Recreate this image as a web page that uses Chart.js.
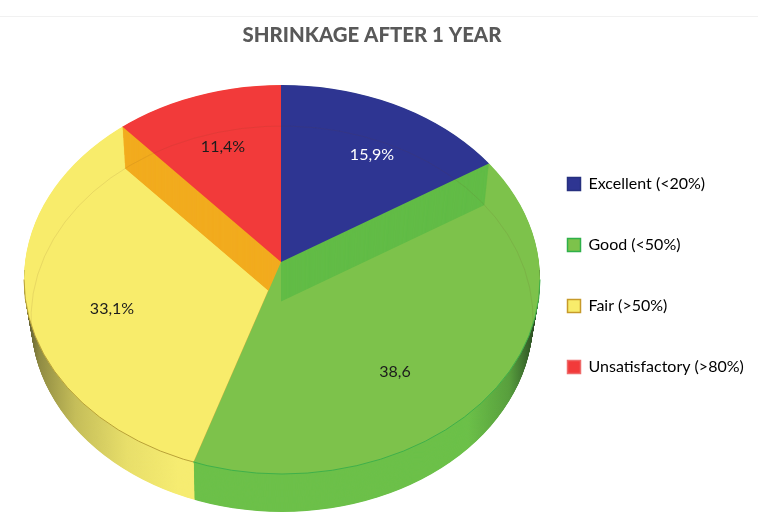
<!DOCTYPE html>
<html>
<head>
<meta charset="utf-8">
<title>Shrinkage after 1 year</title>
<script src="https://cdn.jsdelivr.net/npm/chart.js@4/dist/chart.umd.min.js"></script>
<style>
    html, body { margin: 0; padding: 0; background: #fff; }
    canvas { display: block; }
</style>
</head>
<body>
<canvas id="pie" width="758" height="529"></canvas>
<script>
const categories = ['Excellent (<20%)', 'Good (<50%)', 'Fair (>50%)', 'Unsatisfactory (>80%)'];
const shrinkage = [15.9, 38.6, 33.1, 11.4];
const sliceLabels = ['15,9%', '38,6', '33,1%', '11,4%'];

const topColors = ['#2E3592', '#7DC24B', '#F8EC6B', '#F23A3A'];
const wallColors = ['#2E3592', '#6DC04A', '#F6EC72', '#F23A3A'];
const legendBorders = ['#26307F', '#2FB04A', '#C79A2A', '#EE6A6A'];
const labelColors = ['#ffffff', '#1c1c1c', '#1c1c1c', '#1c1c1c'];
const labelPos = [[372, 155], [395, 372], [112, 309], [223, 147]];

// pie geometry: the wedges fan out from an apex above the ellipse centre (fake perspective)
const APEX_X = 281, APEX_Y = 262;
const CX = 282, CY = 279.5, RX = 258, RY = 194.5;
const TILT = RY / RX;
const DEPTH = 39.5;

function clipDisc(ctx, d) {
    const t = d / DEPTH;
    ctx.beginPath();
    ctx.ellipse(CX, CY + d, RX - 7 * t, RY - 1.5 * t, 0, 0, Math.PI * 2);
    ctx.clip();
}

function drawWedge(ctx, arc, d, overrides) {
    const own = arc.options;
    ctx.save();
    clipDisc(ctx, d);
    ctx.translate(APEX_X, APEX_Y + d);
    ctx.scale(1, TILT);
    ctx.translate(-arc.x, -arc.y);
    arc.options = { ...own, ...overrides };
    arc.draw(ctx);
    arc.options = own;
    ctx.restore();
}

function extrude(ctx, arc, color) {
    for (let d = DEPTH; d > 0; d -= 0.5) {
        drawWedge(ctx, arc, d, { backgroundColor: color });
    }
}

const pie3d = {
    id: 'pie3d',
    afterLayout(chart) {
        // legend sits lower than the pie centre
        const lg = chart.legend;
        const shift = 11;
        lg.top += shift;
        lg.bottom += shift;
        lg.left = 567.5 - lg.options.labels.padding;
    },
    beforeDraw(chart) {
        const ctx = chart.ctx;
        ctx.save();
        ctx.strokeStyle = '#f1f1f1';
        ctx.lineWidth = 1;
        ctx.beginPath();
        ctx.moveTo(0, 16.5);
        ctx.lineTo(758, 16.5);
        ctx.stroke();
        ctx.restore();
    },
    beforeDatasetsDraw(chart) {
        const ctx = chart.ctx;
        const arcs = chart.getDatasetMeta(0).data;
        const [blue, green, yellow, red] = arcs;

        // outer wall
        extrude(ctx, yellow, wallColors[2]);
        extrude(ctx, green, wallColors[1]);
        ctx.save();
        ctx.globalCompositeOperation = 'source-atop';
        const shade = ctx.createLinearGradient(24, 0, 540, 0);
        shade.addColorStop(0, 'rgba(45,45,30,0.85)');
        shade.addColorStop(0.03, 'rgba(60,60,30,0.55)');
        shade.addColorStop(0.1, 'rgba(70,70,30,0.28)');
        shade.addColorStop(0.2, 'rgba(70,70,30,0.08)');
        shade.addColorStop(0.3, 'rgba(70,70,30,0)');
        shade.addColorStop(0.86, 'rgba(30,60,30,0)');
        shade.addColorStop(0.94, 'rgba(30,60,30,0.25)');
        shade.addColorStop(1, 'rgba(20,30,20,0.85)');
        ctx.fillStyle = shade;
        ctx.fillRect(20, 270, 525, 250);
        ctx.restore();

        // top face, with the back walls showing through the lighter slices
        drawWedge(ctx, yellow, 0, { borderWidth: 1, borderColor: '#C9B040' });
        extrude(ctx, red, '#F2AC1F');
        drawWedge(ctx, green, 0, {});
        extrude(ctx, blue, '#62BC47');
        drawWedge(ctx, blue, 0, {});
        drawWedge(ctx, red, 0, {});

        // far rim seen through the top face
        ctx.save();
        clipDisc(ctx, 0);
        ctx.lineWidth = 1;
        ctx.strokeStyle = 'rgba(110,60,40,0.11)';
        ctx.beginPath();
        ctx.ellipse(CX, CY + DEPTH, RX - 7, RY - 1.5, 0, Math.PI * 0.98, Math.PI * 2.02);
        ctx.stroke();
        ctx.restore();

        // front edge of the top face
        ctx.save();
        ctx.lineWidth = 1;
        ctx.beginPath();
        ctx.rect(0, 270, 193, 259);
        ctx.clip();
        ctx.strokeStyle = '#B9A238';
        ctx.beginPath();
        ctx.ellipse(CX, CY, RX, RY, 0, 0, Math.PI);
        ctx.stroke();
        ctx.restore();
        ctx.save();
        ctx.lineWidth = 1;
        ctx.beginPath();
        ctx.rect(193, 270, 360, 259);
        ctx.clip();
        ctx.strokeStyle = '#3FB04A';
        ctx.beginPath();
        ctx.ellipse(CX, CY, RX, RY, 0, 0, Math.PI);
        ctx.stroke();
        ctx.restore();

        ctx.save();
        ctx.font = '16px Lato';
        ctx.textAlign = 'center';
        ctx.textBaseline = 'middle';
        sliceLabels.forEach((s, i) => {
            ctx.fillStyle = labelColors[i];
            ctx.fillText(s, labelPos[i][0], labelPos[i][1]);
        });
        ctx.restore();
        return false;
    }
};

new Chart(document.getElementById('pie').getContext('2d'), {
    type: 'pie',
    plugins: [pie3d],
    data: {
        labels: categories,
        datasets: [{
            data: shrinkage,
            backgroundColor: topColors,
            borderWidth: 0,
            radius: 320,
            clip: false
        }]
    },
    options: {
        responsive: false,
        animation: false,
        layout: { padding: { right: 14 } },
        plugins: {
            tooltip: { enabled: false },
            title: {
                display: true,
                text: 'SHRINKAGE AFTER 1 YEAR',
                color: '#595959',
                font: { family: 'Lato', size: 20.4, weight: 900 },
                padding: { top: 23, bottom: 10 }
            },
            legend: {
                position: 'right',
                labels: {
                    boxWidth: 13,
                    boxHeight: 13,
                    padding: 45,
                    color: '#262626',
                    font: { family: 'Lato', size: 16 },
                    generateLabels: () => categories.map((text, i) => ({
                        text,
                        fillStyle: topColors[i],
                        strokeStyle: legendBorders[i],
                        lineWidth: 1.5,
                        index: i
                    }))
                }
            }
        }
    }
});
</script>
</body>
</html>
